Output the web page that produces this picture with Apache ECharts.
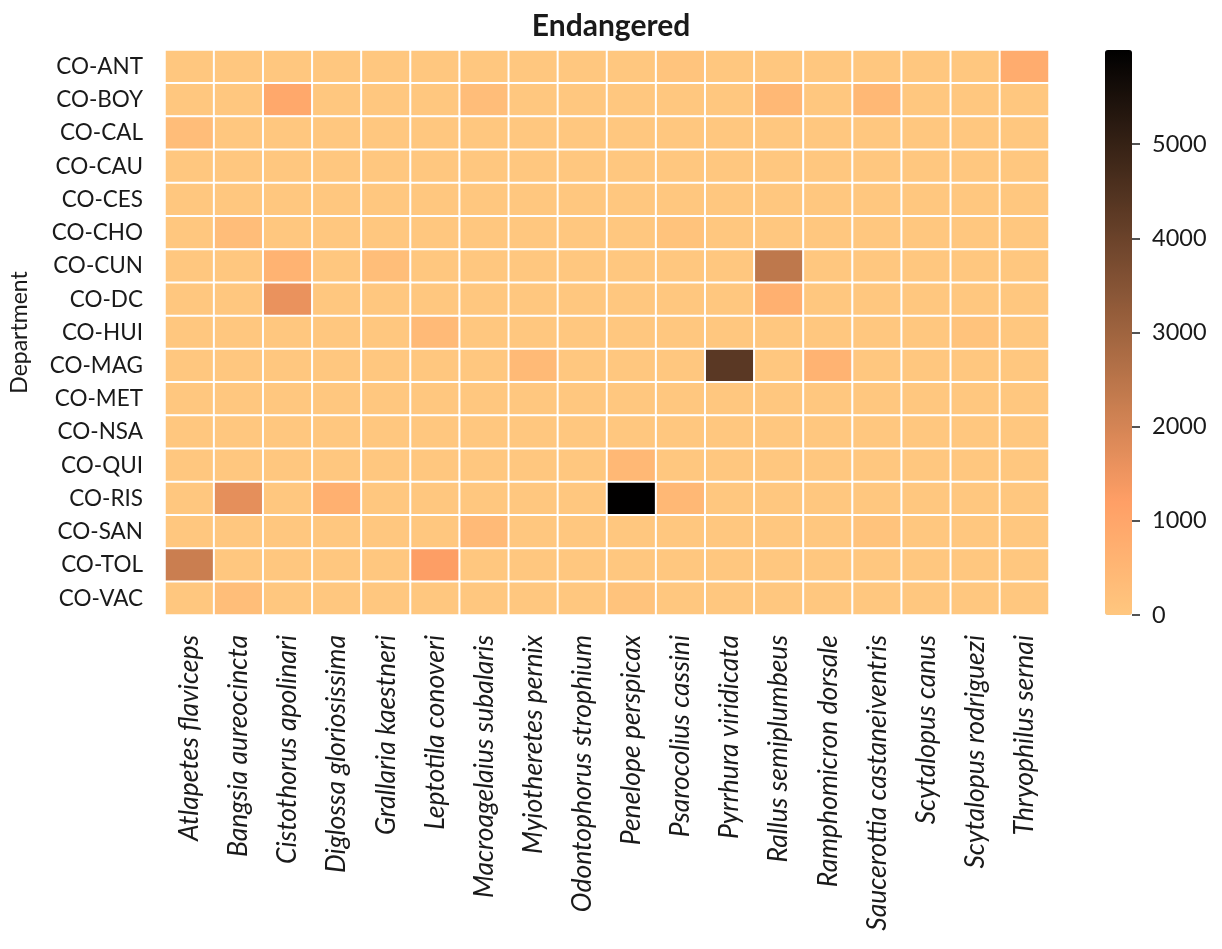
<!DOCTYPE html>
<html>
<head>
<meta charset="utf-8">
<script src="https://cdn.jsdelivr.net/npm/echarts@6/dist/echarts.min.js"></script>
<style>
  html, body { margin: 0; padding: 0; background: #ffffff; }
  #chart { width: 1222px; height: 949px; }
</style>
</head>
<body>
<div id="chart"></div>
<script>
// Species (columns) and departments (rows)
const species = [
  'Atlapetes flaviceps', 'Bangsia aureocincta', 'Cistothorus apolinari',
  'Diglossa gloriosissima', 'Grallaria kaestneri', 'Leptotila conoveri',
  'Macroagelaius subalaris', 'Myiotheretes pernix', 'Odontophorus strophium',
  'Penelope perspicax', 'Psarocolius cassini', 'Pyrrhura viridicata',
  'Rallus semiplumbeus', 'Ramphomicron dorsale', 'Saucerottia castaneiventris',
  'Scytalopus canus', 'Scytalopus rodriguezi', 'Thryophilus sernai'
];
const departments = [
  'CO-ANT', 'CO-BOY', 'CO-CAL', 'CO-CAU', 'CO-CES', 'CO-CHO', 'CO-CUN',
  'CO-DC', 'CO-HUI', 'CO-MAG', 'CO-MET', 'CO-NSA', 'CO-QUI', 'CO-RIS',
  'CO-SAN', 'CO-TOL', 'CO-VAC'
];
// Record counts, one row per department, one column per species
const counts = [
  [0, 0, 0, 0, 0, 0, 0, 0, 0, 0, 100, 0, 0, 0, 0, 0, 0, 815],      // CO-ANT
  [0, 0, 935, 0, 0, 0, 300, 0, 0, 0, 0, 0, 450, 0, 450, 0, 0, 0],   // CO-BOY
  [300, 0, 0, 0, 0, 0, 0, 0, 0, 0, 0, 0, 0, 0, 0, 0, 0, 0],         // CO-CAL
  [0, 0, 0, 0, 0, 0, 0, 0, 0, 0, 0, 0, 0, 0, 0, 0, 0, 0],           // CO-CAU
  [0, 0, 0, 0, 0, 0, 0, 0, 0, 0, 0, 0, 0, 0, 0, 0, 0, 0],           // CO-CES
  [0, 300, 0, 0, 0, 0, 0, 0, 0, 0, 120, 0, 0, 0, 0, 0, 0, 0],       // CO-CHO
  [0, 0, 600, 0, 280, 0, 0, 0, 0, 0, 0, 0, 2410, 0, 0, 0, 0, 0],    // CO-CUN
  [0, 0, 1600, 0, 0, 0, 0, 0, 0, 0, 0, 0, 695, 0, 0, 0, 0, 0],      // CO-DC
  [0, 0, 0, 0, 0, 390, 0, 0, 0, 0, 0, 0, 0, 0, 0, 0, 120, 0],       // CO-HUI
  [0, 0, 0, 0, 0, 0, 0, 400, 0, 0, 0, 4310, 0, 600, 0, 0, 0, 0],    // CO-MAG
  [0, 0, 0, 0, 0, 0, 0, 0, 0, 0, 0, 0, 0, 0, 0, 0, 0, 0],           // CO-MET
  [0, 0, 0, 0, 0, 0, 0, 0, 0, 0, 0, 0, 0, 0, 0, 0, 0, 0],           // CO-NSA
  [0, 0, 0, 0, 0, 0, 0, 0, 0, 450, 0, 0, 0, 0, 0, 0, 0, 0],         // CO-QUI
  [0, 1690, 0, 695, 0, 0, 0, 0, 0, 5990, 450, 0, 0, 0, 0, 0, 0, 0], // CO-RIS
  [0, 0, 0, 0, 0, 0, 390, 0, 0, 0, 0, 0, 0, 0, 120, 0, 0, 0],       // CO-SAN
  [2200, 0, 0, 0, 0, 1240, 0, 0, 0, 0, 0, 0, 0, 0, 0, 0, 0, 0],     // CO-TOL
  [0, 280, 0, 0, 0, 0, 0, 0, 0, 120, 0, 0, 0, 0, 0, 0, 0, 0]        // CO-VAC
];
const colorbarStep = 1000;
const colorMax = 6000;

// Reversed copper colour ramp (light orange -> black)
const copperRamp = [
  '#FFC77F', '#FFB372', '#FF9F66', '#DF8B59', '#BF784C', '#9F643F',
  '#805033', '#603C26', '#402819', '#20140D', '#000000'
];

const cells = [];
counts.forEach((row, y) => row.forEach((v, x) => cells.push([x, y, v])));

const FONT = 'Lato';
const INK = '#1a1a1a';

const chart = echarts.init(document.getElementById('chart'), null, { renderer: 'canvas' });
chart.setOption({
  animation: false,
  backgroundColor: '#ffffff',
  textStyle: { fontFamily: FONT, color: INK },
  title: {
    text: 'Endangered',
    left: 606, top: 6, textAlign: 'center',
    textStyle: { fontFamily: FONT, fontWeight: 'bold', fontSize: 30, color: INK }
  },
  grid: [
    { left: 164, top: 50, width: 885, height: 565 },
    // narrow strip right of the colour bar: its split lines act as the bar's ticks
    { left: 1132, top: 50, width: 8, height: 565 }
  ],
  xAxis: [
    {
      type: 'category', data: species, gridIndex: 0,
      axisLine: { show: false },
      axisTick: { alignWithLabel: true, length: 9, lineStyle: { color: INK, width: 1.5 } },
      axisLabel: {
        rotate: 90, interval: 0, margin: 20,
        fontFamily: FONT, fontStyle: 'italic', fontSize: 26.5, color: INK
      },
      splitLine: { show: false }
    },
    { type: 'value', gridIndex: 1, show: false, min: 0, max: 1 }
  ],
  yAxis: [
    {
      type: 'category', data: departments, gridIndex: 0, inverse: true,
      name: 'Department', nameLocation: 'middle', nameRotate: 90, nameGap: 134,
      nameTextStyle: { fontFamily: FONT, fontSize: 23, color: INK },
      axisLine: { show: false },
      axisTick: { alignWithLabel: true, length: 9, lineStyle: { color: INK, width: 1.5 } },
      axisLabel: { interval: 0, margin: 22, fontFamily: FONT, fontSize: 22.5, color: INK },
      splitLine: { show: false }
    },
    {
      type: 'value', gridIndex: 1, position: 'right',
      min: 0, max: colorMax, interval: colorbarStep,
      axisLine: { show: false },
      axisTick: { show: false },
      axisLabel: {
        margin: 12, showMaxLabel: false, fontFamily: FONT, fontSize: 23.5, color: INK,
        formatter: v => String(v)
      },
      splitLine: {
        show: true, showMinLine: true, showMaxLine: false,
        lineStyle: { color: INK, width: 1.5 }
      }
    }
  ],
  visualMap: {
    type: 'continuous', min: 0, max: colorMax, seriesIndex: 0,
    calculable: false, showLabel: false, hoverLink: false,
    orient: 'vertical', left: 1105, top: 50, padding: 0,
    itemWidth: 27, itemHeight: 565,
    inRange: { color: copperRamp }
  },
  series: [
    {
      type: 'heatmap', xAxisIndex: 0, yAxisIndex: 0, data: cells,
      itemStyle: { borderColor: '#ffffff', borderWidth: 2 },
      emphasis: { disabled: true }
    },
    { type: 'scatter', xAxisIndex: 1, yAxisIndex: 1, data: [], silent: true }
  ]
});
</script>
</body>
</html>
